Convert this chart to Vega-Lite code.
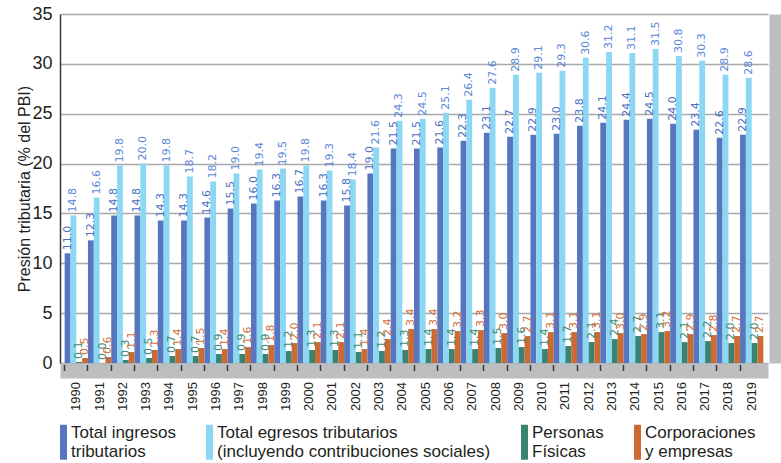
{
  "$schema": "https://vega.github.io/schema/vega-lite/v6.json",
  "width": 708,
  "height": 349,
  "autosize": {"type": "none"},
  "padding": {"left": 60, "top": 14, "right": 13, "bottom": 100},
  "background": "white",
  "data": {
    "values": [
      {"year": "1990", "ingresos": 11.0, "egresos": 14.8, "fisicas": 0.1, "corporaciones": 0.5},
      {"year": "1991", "ingresos": 12.3, "egresos": 16.6, "fisicas": 0.0, "corporaciones": 0.6},
      {"year": "1992", "ingresos": 14.8, "egresos": 19.8, "fisicas": 0.3, "corporaciones": 1.1},
      {"year": "1993", "ingresos": 14.8, "egresos": 20.0, "fisicas": 0.5, "corporaciones": 1.3},
      {"year": "1994", "ingresos": 14.3, "egresos": 19.8, "fisicas": 0.7, "corporaciones": 1.4},
      {"year": "1995", "ingresos": 14.3, "egresos": 18.7, "fisicas": 0.7, "corporaciones": 1.5},
      {"year": "1996", "ingresos": 14.6, "egresos": 18.2, "fisicas": 0.9, "corporaciones": 1.4},
      {"year": "1997", "ingresos": 15.5, "egresos": 19.0, "fisicas": 0.9, "corporaciones": 1.6},
      {"year": "1998", "ingresos": 16.0, "egresos": 19.4, "fisicas": 0.9, "corporaciones": 1.8},
      {"year": "1999", "ingresos": 16.3, "egresos": 19.5, "fisicas": 1.2, "corporaciones": 2.0},
      {"year": "2000", "ingresos": 16.7, "egresos": 19.8, "fisicas": 1.3, "corporaciones": 2.1},
      {"year": "2001", "ingresos": 16.3, "egresos": 19.3, "fisicas": 1.3, "corporaciones": 2.1},
      {"year": "2002", "ingresos": 15.8, "egresos": 18.4, "fisicas": 1.1, "corporaciones": 1.4},
      {"year": "2003", "ingresos": 19.0, "egresos": 21.6, "fisicas": 1.2, "corporaciones": 2.4},
      {"year": "2004", "ingresos": 21.5, "egresos": 24.3, "fisicas": 1.3, "corporaciones": 3.4},
      {"year": "2005", "ingresos": 21.5, "egresos": 24.5, "fisicas": 1.4, "corporaciones": 3.4},
      {"year": "2006", "ingresos": 21.6, "egresos": 25.1, "fisicas": 1.4, "corporaciones": 3.2},
      {"year": "2007", "ingresos": 22.3, "egresos": 26.4, "fisicas": 1.4, "corporaciones": 3.3},
      {"year": "2008", "ingresos": 23.1, "egresos": 27.6, "fisicas": 1.5, "corporaciones": 3.0},
      {"year": "2009", "ingresos": 22.7, "egresos": 28.9, "fisicas": 1.6, "corporaciones": 2.7},
      {"year": "2010", "ingresos": 22.9, "egresos": 29.1, "fisicas": 1.4, "corporaciones": 3.1},
      {"year": "2011", "ingresos": 23.0, "egresos": 29.3, "fisicas": 1.7, "corporaciones": 3.1},
      {"year": "2012", "ingresos": 23.8, "egresos": 30.6, "fisicas": 2.1, "corporaciones": 3.1},
      {"year": "2013", "ingresos": 24.1, "egresos": 31.2, "fisicas": 2.4, "corporaciones": 3.0},
      {"year": "2014", "ingresos": 24.4, "egresos": 31.1, "fisicas": 2.7, "corporaciones": 2.9},
      {"year": "2015", "ingresos": 24.5, "egresos": 31.5, "fisicas": 3.1, "corporaciones": 3.2},
      {"year": "2016", "ingresos": 24.0, "egresos": 30.8, "fisicas": 2.1, "corporaciones": 2.9},
      {"year": "2017", "ingresos": 23.4, "egresos": 30.3, "fisicas": 2.2, "corporaciones": 2.8},
      {"year": "2018", "ingresos": 22.6, "egresos": 28.9, "fisicas": 2.0, "corporaciones": 2.7},
      {"year": "2019", "ingresos": 22.9, "egresos": 28.6, "fisicas": 2.0, "corporaciones": 2.7}
    ]
  },
  "transform": [
    {"fold": ["ingresos", "egresos", "fisicas", "corporaciones"], "as": ["serie", "valor"]}
  ],
  "encoding": {
    "xOffset": {
      "field": "serie",
      "type": "nominal",
      "sort": ["ingresos", "egresos", "fisicas", "corporaciones"]
    }
  },
  "layer": [
    {
      "mark": {"type": "bar"},
      "encoding": {
        "x": {
          "field": "year",
          "type": "nominal",
          "scale": {"paddingInner": 0, "paddingOuter": 0.2},
          "axis": {
            "orient": "bottom",
            "title": null,
            "labels": false,
            "ticks": false,
            "offset": 7.5,
            "domainColor": "#bcbec0",
            "domainWidth": 15
          }
        },
        "y": {
          "field": "valor",
          "type": "quantitative",
          "scale": {"domain": [0, 35], "nice": false},
          "axis": {
            "title": "Presión tributaria (% del PBI)",
            "titleFont": "Liberation Sans",
            "titleFontSize": 16,
            "titleFontWeight": "normal",
            "titleColor": "#231f20",
            "titlePadding": -1,
            "values": [0, 5, 10, 15, 20, 25, 30, 35],
            "labelFont": "Liberation Sans",
            "labelFontSize": 18,
            "labelColor": "#231f20",
            "labelPadding": 8,
            "ticks": false,
            "domainColor": "#3a3a3a",
            "domainWidth": 1.5,
            "grid": true,
            "gridColor": "#a7a9ac",
            "gridWidth": 1.5
          }
        },
        "color": {
          "field": "serie",
          "type": "nominal",
          "scale": {
            "domain": ["ingresos", "egresos", "fisicas", "corporaciones"],
            "range": ["#5677bf", "#8bd7f4", "#3a8370", "#cd6a33"]
          },
          "legend": {
            "title": null,
            "orient": "bottom",
            "direction": "horizontal",
            "offset": -4,
            "symbolType": "M-1,0H-0.6V2H-1Z",
            "symbolSize": 1225,
            "symbolStrokeWidth": 0,
            "symbolOpacity": 1,
            "labelFont": "Liberation Sans",
            "labelFontSize": 17,
            "labelColor": "#231f20",
            "labelLimit": 0,
            "labelBaseline": "top",
            "labelOffset": -24,
            "columnPadding": 30,
            "labelExpr": "datum.value == 'ingresos' ? ['Total ingresos', 'tributarios'] : datum.value == 'egresos' ? ['Total egresos tributarios', '(incluyendo contribuciones sociales)'] : datum.value == 'fisicas' ? ['Personas', 'Físicas'] : ['Corporaciones', 'y empresas']"
          }
        }
      }
    },
    {
      "mark": {
        "type": "text",
        "angle": 270,
        "align": "left",
        "baseline": "middle",
        "dx": 3,
        "font": "DejaVu Sans",
        "fontSize": 11
      },
      "encoding": {
        "x": {
          "field": "year",
          "type": "nominal",
          "axis": {
            "orient": "bottom",
            "title": null,
            "labelAngle": -90,
            "labelAlign": "right",
            "labelBaseline": "middle",
            "labelFont": "Liberation Sans",
            "labelFontSize": 13,
            "labelColor": "#231f20",
            "labelPadding": 17,
            "bandPosition": 0,
            "offset": 7.5,
            "domain": false,
            "tickColor": "#3a3a3a",
            "tickWidth": 1.5,
            "tickSize": -6
          }
        },
        "y": {
          "field": "valor",
          "type": "quantitative",
          "scale": {"domain": [0, 35], "nice": false},
          "axis": {
            "orient": "right",
            "title": null,
            "labels": false,
            "ticks": false,
            "grid": false,
            "domainColor": "#bcbec0",
            "domainWidth": 12,
            "offset": 7
          }
        },
        "text": {"field": "valor", "type": "quantitative", "format": ".1f"},
        "color": {
          "field": "serie",
          "type": "nominal",
          "scale": {
            "domain": ["ingresos", "egresos", "fisicas", "corporaciones"],
            "range": ["#4a6fc1", "#5b86d6", "#3f8a74", "#d2703a"]
          },
          "legend": null
        }
      }
    }
  ],
  "resolve": {"scale": {"color": "independent", "y": "independent"}, "axis": {"y": "independent", "x": "independent"}},
  "config": {
    "view": {"stroke": null},
    "legend": {"layout": {"anchor": "start"}}
  }
}
